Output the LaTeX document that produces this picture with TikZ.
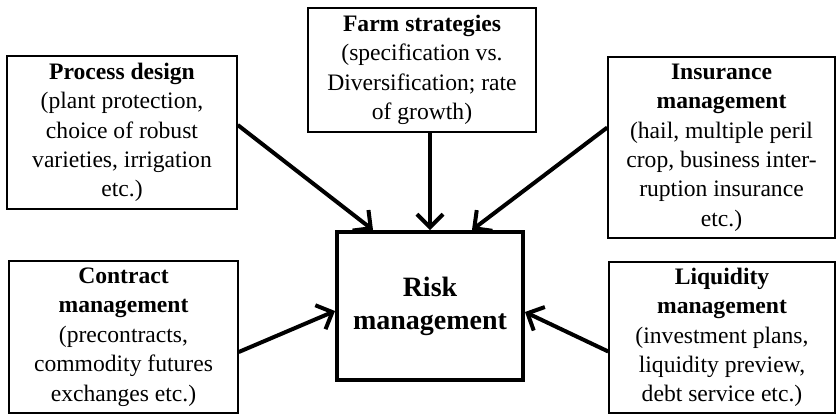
\documentclass[tikz,border=0pt]{standalone}
\usepackage{fontspec}
\setmainfont{Liberation Serif}
\usetikzlibrary{arrows.meta}
\tikzset{
    box/.style={draw=black, line width=0.75pt, align=center, inner sep=0pt,
        font=\fontsize{11.8}{14.7}\selectfont},
    riskbox/.style={draw=black, line width=2pt, align=center, inner sep=0pt,
        font=\fontsize{14}{16.5}\selectfont\bfseries},
    link/.style={->, black, line width=2pt}
}

\begin{document}
\begin{tikzpicture}[x=0.5pt, y=-0.5pt, >={Straight Barb[length=6.5pt,width=13pt]}]
    \useasboundingbox (0,0) rectangle (836,418);

    \node[box, minimum width=115pt, minimum height=76.5pt] (PROC) at (122, 132.5)
        {\textbf{Process design}\\(plant protection,\\choice of robust\\varieties, irrigation\\etc.)};
    \node[box, minimum width=114pt, minimum height=62pt] (FARM) at (422, 70)
        {\textbf{Farm strategies}\\(specification vs.\\Diversification; rate\\of growth)};
    \node[box, minimum width=113.5pt, minimum height=90.5pt] (INS) at (721.5, 147.5)
        {\textbf{Insurance}\\\textbf{management}\\(hail, multiple peril\\crop, business inter-\\ruption insurance\\etc.)};
    \node[box, minimum width=114.5pt, minimum height=76pt] (CONT) at (123.5, 337)
        {\textbf{Contract}\\\textbf{management}\\(precontracts,\\commodity futures\\exchanges etc.)};
    \node[box, minimum width=113pt, minimum height=75.5pt] (LIQ) at (722, 337.5)
        {\textbf{Liquidity}\\\textbf{management}\\(investment plans,\\liquidity preview,\\debt service etc.)};

    \node[riskbox, minimum width=93pt, minimum height=74pt] (RISK) at (430, 306)
        {Risk\\management};

    \draw[link] ([yshift=3.75pt]PROC.east) -- ([xshift=19pt]RISK.north west);
    \draw[link] (RISK.north |- FARM.south) -- (RISK.north);
    \draw[link] ([yshift=10pt]INS.west) -- ([xshift=-26.5pt]RISK.north east);
    \draw[link] ([yshift=-7.5pt]CONT.east) -- ([yshift=-2.5pt]RISK.west);
    \draw[link] ([yshift=-7pt]LIQ.west) -- ([yshift=-3pt]RISK.east);
\end{tikzpicture}
\end{document}
